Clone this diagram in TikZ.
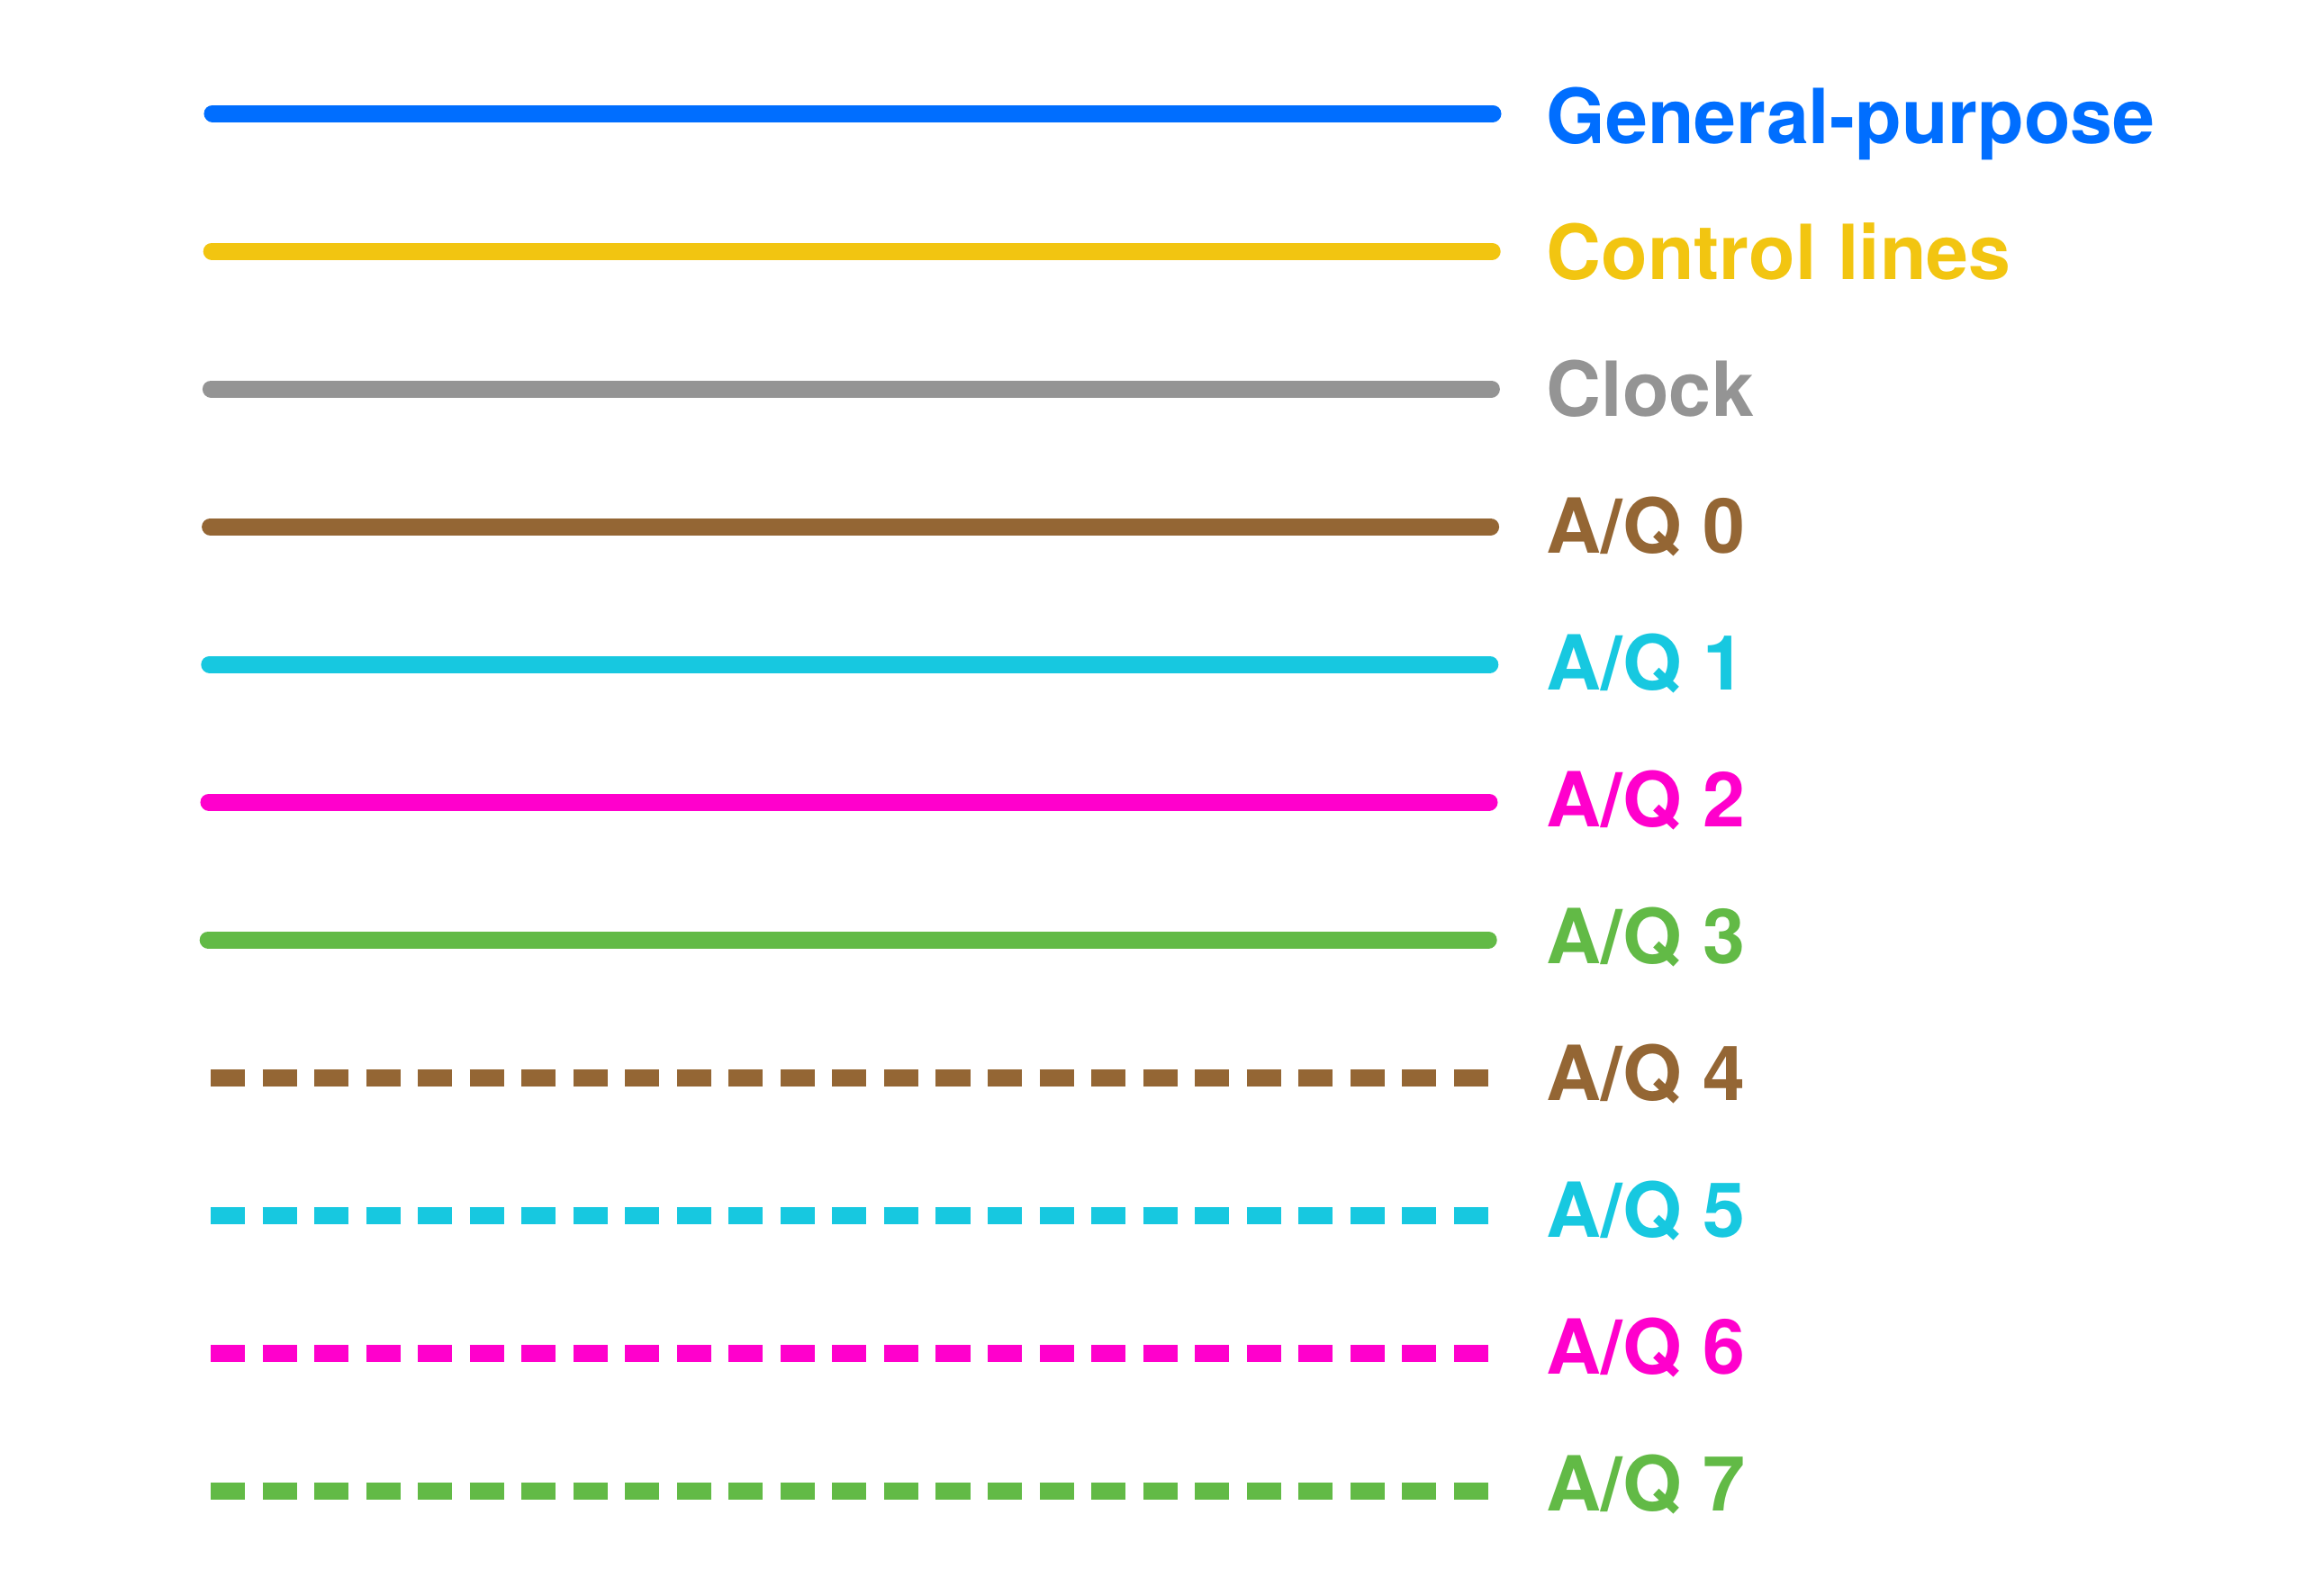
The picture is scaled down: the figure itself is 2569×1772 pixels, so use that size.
\documentclass[tikz,border=0pt]{standalone}
\usepackage{fontspec}
\setmainfont{TeX Gyre Heros}
\definecolor{cblue}{RGB}{0,110,255}
\definecolor{cgold}{RGB}{242,197,17}
\definecolor{cgray}{RGB}{148,148,148}
\definecolor{cbrown}{RGB}{148,102,52}
\definecolor{ccyan}{RGB}{23,200,224}
\definecolor{cmag}{RGB}{255,0,204}
\definecolor{cgreen}{RGB}{98,186,70}
\begin{document}
\begin{tikzpicture}[x=0.01cm, y=-0.01cm,
    legendline/.style={line width=0.19cm, line cap=round},
    legenddash/.style={line width=0.19cm, dash pattern=on 0.38cm off 0.195cm},
    legendlabel/.style={anchor=base west, inner sep=0pt, font=\fontsize{24}{24}\selectfont\bfseries}]
    \useasboundingbox (0,0) rectangle (2569,1772);

    % Durchgezogene Linien
    \foreach \col/\txt [count=\i from 0] in {cblue/General-purpose, cgold/Control lines, cgray/Clock,
        cbrown/{A/Q 0}, ccyan/{A/Q 1}, cmag/{A/Q 2}, cgreen/{A/Q 3}} {
        \coordinate (s\i) at (236-0.8*\i,126+153*\i);
        \coordinate (e\i) at (1658-0.8*\i,126+153*\i);
        \draw[legendline, \col] (s\i) -- (e\i);
        \node[legendlabel, text=\col] (l\i) at (1717,159+151.9*\i) {\txt};
    }

    % Gestrichelte Linien
    \foreach \col [count=\i from 7] in {cbrown, ccyan, cmag, cgreen} {
        \coordinate (s\i) at (234,126+153*\i);
        \coordinate (e\i) at (1653,126+153*\i);
        \draw[legenddash, \col] (s\i) -- (e\i);
        \pgfmathtruncatemacro{\aq}{\i-3}
        \node[legendlabel, text=\col] (l\i) at (1717,159+151.9*\i) {A/Q \aq};
    }
\end{tikzpicture}
\end{document}
